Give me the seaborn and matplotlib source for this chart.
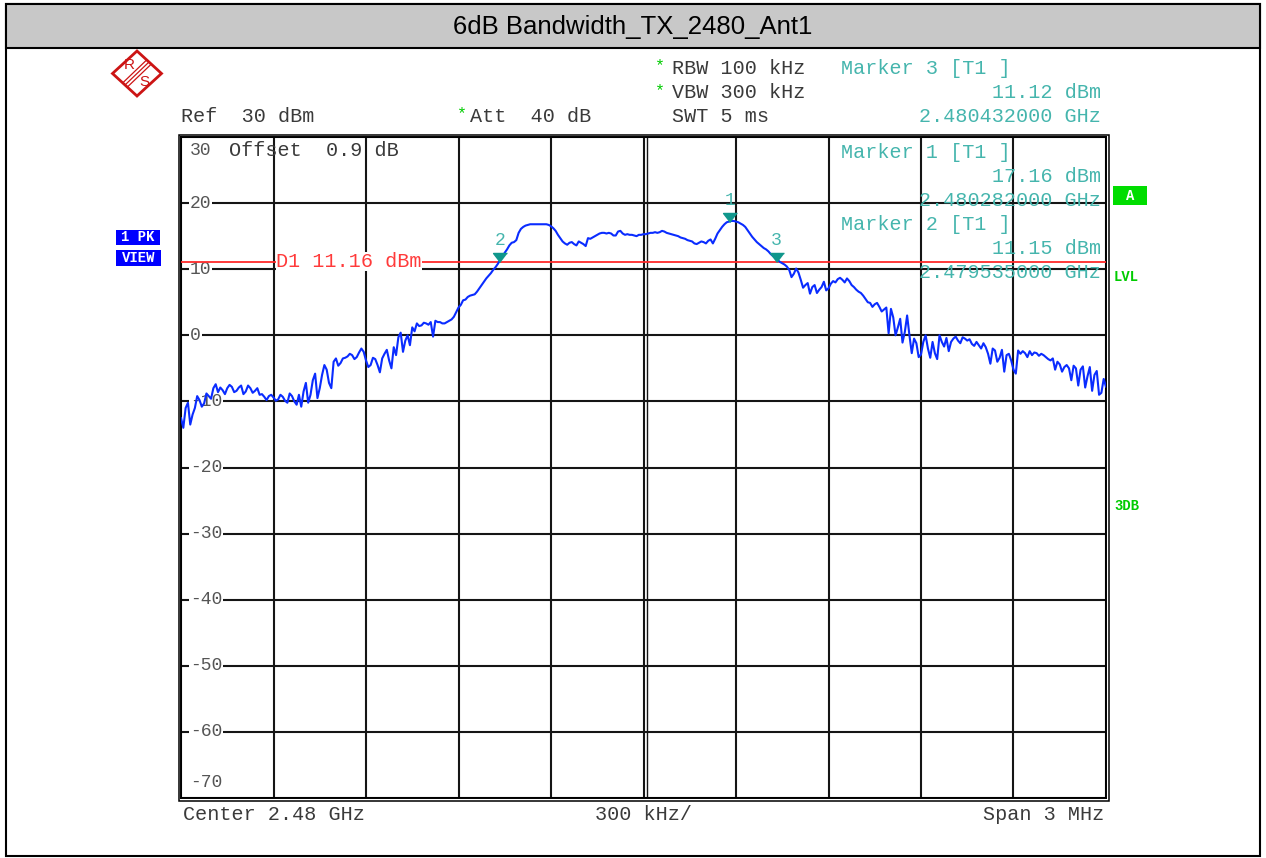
import numpy as np
import pandas as pd
import matplotlib
matplotlib.use("Agg")
import matplotlib.pyplot as plt
import seaborn as sns
from matplotlib.patches import Rectangle, Polygon
from matplotlib.lines import Line2D

# ---------------- data ----------------
title = "6dB Bandwidth_TX_2480_Ant1"
start_mhz, stop_mhz = 2478.5, 2481.5          # Center 2.48 GHz, Span 3 MHz
# trace levels (even sweep points)
levels_even = [
    -12.5, -11.0, -13.5, -11.0, -9.8, -10.3, -9.2, -8.0, -8.6, -8.3,
    -8.0, -7.8, -8.4, -7.6, -8.5, -8.0, -8.4, -9.0, -9.3, -9.2,
    -9.4, -9.7, -9.3, -10.2, -9.2, -10.5, -10.8, -7.2, -9.0, -5.8,
    -8.0, -4.5, -7.2, -4.0, -4.6, -3.5, -3.2, -3.0, -3.3, -2.0,
    -3.8, -4.5, -3.6, -5.6, -2.8, -3.8, -1.8, -0.3, -2.5, 0.0,
    1.2, 1.8, 1.5, 1.8, 2.0, 2.2, 2.0, 1.8, 2.2, 2.8,
    4.2, 5.3, 5.8, 6.1, 6.6, 7.6, 8.6, 9.4, 10.3, 11.4,
    12.5, 13.6, 14.1, 15.5, 16.4, 16.7, 16.8, 16.8, 16.8, 16.8,
    16.5, 15.8, 14.7, 13.9, 14.0, 13.8, 14.2, 13.8, 14.7, 14.8,
    15.2, 15.5, 15.4, 15.4, 15.1, 15.8, 15.2, 15.2, 15.1, 15.2,
    15.3, 15.4, 15.5, 15.5, 15.8, 15.5, 15.3, 15.1, 14.8, 14.6,
    14.3, 13.9, 14.0, 14.1, 14.3, 13.9, 15.4, 16.4, 17.1, 17.3,
    17.2, 16.9, 16.4, 15.4, 14.5, 13.8, 13.2, 12.7, 12.0, 11.4,
    10.9, 10.4, 8.8, 10.1, 8.4, 7.6, 6.3, 7.6, 6.9, 8.1,
    7.1, 8.2, 8.5, 8.4, 8.6, 7.6, 6.9, 6.4, 5.5, 4.9,
    4.7, 4.3, 3.9, 0.3, 2.7, 1.2, -1.1, 3.0, -2.7, -1.2,
    -2.9, 0.0, -3.4, -2.7, 0.0, -1.7, -2.4, -0.5, -0.8, -0.3,
    -0.8, -1.3, -1.0, -2.0, -1.8, -4.3, -2.3, -3.4, -5.5, -2.8,
    -5.2, -2.3, -2.4, -3.3, -3.0, -2.7, -2.8, -3.3, -3.8, -5.2,
    -4.4, -4.8, -5.0, -4.6, -7.6, -4.7, -6.2, -8.4, -5.4, -8.7,
    -7.8,
]
# trace levels (odd sweep points, between the even ones)
levels_odd = [
    -14.0, -10.2, -12.0, -9.2, -10.8, -8.8, -9.6, -7.4, -7.9, -8.9,
    -7.5, -8.6, -7.9, -8.9, -7.6, -8.7, -8.0, -8.9, -9.8, -9.0,
    -9.9, -9.0, -9.9, -8.8, -10.0, -9.0, -8.5, -10.2, -6.8, -9.5,
    -6.0, -5.2, -8.0, -3.5, -4.2, -3.4, -2.8, -3.6, -2.6, -2.5,
    -4.8, -3.4, -4.5, -3.5, -2.2, -5.0, -3.0, 0.4, -0.8, -1.5,
    0.6, 1.4, 1.9, 1.6, -0.2, 2.0, 1.8, 2.0, 2.4, 3.5,
    4.6, 5.4, 6.0, 6.2, 7.1, 8.1, 9.0, 9.9, 10.8, 11.9,
    13.0, 14.0, 14.4, 16.1, 16.6, 16.8, 16.8, 16.8, 16.8, 16.7,
    16.2, 15.2, 14.2, 13.7, 14.1, 13.6, 14.0, 13.5, 14.6, 15.0,
    15.4, 15.5, 15.5, 15.1, 15.7, 15.4, 15.3, 15.2, 15.0, 15.2,
    15.3, 15.5, 15.6, 15.6, 15.7, 15.4, 15.2, 15.0, 14.7, 14.4,
    14.2, 13.8, 14.2, 13.9, 14.5, 14.6, 15.9, 16.8, 17.2, 17.3,
    17.1, 16.7, 15.9, 14.9, 14.1, 13.5, 13.0, 12.3, 11.7, 11.1,
    10.7, 9.9, 9.3, 9.5, 7.2, 7.9, 7.3, 6.4, 7.3, 6.8,
    7.8, 8.0, 8.7, 8.0, 8.2, 7.3, 6.6, 6.0, 5.0, 4.3,
    4.9, 3.6, 4.2, 4.0, 0.0, 2.5, 0.5, 0.0, -0.5, -3.3,
    -1.0, -2.0, -1.0, -3.6, -1.0, -0.4, -1.0, -0.2, -1.2, -0.5,
    -0.6, -1.6, -1.5, -1.2, -2.8, -2.0, -4.0, -2.2, -3.0, -3.8,
    -5.8, -2.8, -2.7, -2.4, -2.6, -3.1, -3.0, -3.6, -3.5, -4.0,
    -5.5, -4.5, -6.8, -5.0, -5.2, -7.9, -4.8, -6.0, -9.0, -6.6,
]
y_ticks = [30, 20, 10, 0, -10, -20, -30, -40, -50, -60, -70]
display_line_dbm = 11.16
marker_ids = ["1", "2", "3"]
marker_freq_ghz = [2.480282, 2.479535, 2.480432]
marker_level_dbm = [17.16, 11.15, 11.12]

# ---------------- style ----------------
sns.set_theme(style="white")
plt.rcParams["font.family"] = ["Liberation Mono", "DejaVu Sans Mono"]

W, H = 1266, 858
fig = plt.figure(figsize=(W / 100, H / 100), dpi=100)
fig.patch.set_facecolor("white")


def fx(x):
    return x / W


def fy(y):
    return 1 - y / H


GRAY = "#3a3a3a"
TEAL = "#45b5ad"
MARK = "#10978c"
RED = "#ff2a2a"
BLUE = "#0a2cff"
GREEN = "#00cc00"
MONO = 14.5

# outer frame and title bar
fig.patches.append(Rectangle((fx(6), fy(856)), fx(1260) - fx(6), fy(4) - fy(856),
                             transform=fig.transFigure, fill=False, edgecolor="black", lw=1.5, zorder=0))
fig.patches.append(Rectangle((fx(6), fy(48)), fx(1260) - fx(6), fy(4) - fy(48),
                             transform=fig.transFigure, facecolor="#c8c8c8", edgecolor="black", lw=1.5, zorder=0))
fig.text(fx(633), fy(27), title, ha="center", va="center", fontsize=18.5,
         family="Liberation Sans", color="black")

# ---------------- axes ----------------
ax = fig.add_axes([fx(181), fy(798), fx(1106) - fx(181), fy(137) - fy(798)])
levels = np.empty(len(levels_even) + len(levels_odd))
levels[0::2] = levels_even
levels[1::2] = levels_odd
freqs = np.linspace(start_mhz, stop_mhz, len(levels))
df = pd.DataFrame({"freq": freqs, "level": levels})
sns.lineplot(data=df, x="freq", y="level", ax=ax, color=BLUE, linewidth=1.5, zorder=5)
ax.set_xlim(start_mhz, stop_mhz)
ax.set_ylim(y_ticks[-1], y_ticks[0])
ax.set_xticks(np.linspace(start_mhz, stop_mhz, 11))
ax.set_yticks(y_ticks)
ax.grid(True, color="#151515", lw=1.5)
ax.set_axisbelow(True)
ax.tick_params(length=0, labelleft=False, labelbottom=False)
ax.set_xlabel("")
ax.set_ylabel("")
for s in ax.spines.values():
    s.set_color("black")
    s.set_linewidth(1.4)
center_mhz = (start_mhz + stop_mhz) / 2
ax.axvline(center_mhz + 0.0105, color="#151515", lw=1.0, zorder=1)
# double outer frame of the graticule
fig.patches.append(Rectangle((fx(178.5), fy(800.5)), fx(1108.5) - fx(178.5), fy(134.5) - fy(800.5),
                             transform=fig.transFigure, fill=False, edgecolor="black", lw=1.1, zorder=0))

# y labels inside graticule
for v in y_ticks:
    dy = 0
    if v == y_ticks[0]:
        dy = -9.5
    elif v == y_ticks[-1]:
        dy = 11.5
    ax.annotate(f"{v}", xy=(0, v), xycoords=ax.get_yaxis_transform(), xytext=(6.5, dy),
                textcoords="offset points", ha="left", va="center", fontsize=13, color="#555555",
                bbox=dict(facecolor="white", edgecolor="none", pad=0.6), zorder=3)

# display line
ax.axhline(display_line_dbm, color=RED, lw=1.3, zorder=4)
ax.text((276 - 181) / 925, display_line_dbm, f"D1 {display_line_dbm:.2f} dBm",
        transform=ax.get_yaxis_transform(), ha="left", va="center", fontsize=MONO, color="#ff3a3a",
        bbox=dict(facecolor="white", edgecolor="none", pad=0.2), zorder=4.2)

# markers
m_f = np.array(marker_freq_ghz) * 1000
ax.plot(m_f, marker_level_dbm, linestyle="none", marker=[(0, 0), (-1, 1.3), (1, 1.3)],
        markersize=13, color=MARK, zorder=6)
for mid, f, lv in zip(marker_ids, m_f, marker_level_dbm):
    ax.annotate(mid, xy=(f, lv), xytext=(0, 15.5), textcoords="offset points", ha="center",
                va="center", fontsize=13, color=TEAL, zorder=6)

# ---------------- header / annotation texts ----------------
def t(x, y, s, color=GRAY, ha="left", size=MONO, **kw):
    fig.text(fx(x), fy(y), s, ha=ha, va="center", fontsize=size, color=color, **kw)


t(181, 117, "Ref  30 dBm")
t(470, 117, "Att  40 dB")
t(462, 114, "*", color=GREEN, ha="center", size=12)
t(660, 66, "*", color=GREEN, ha="center", size=12)
t(660, 91, "*", color=GREEN, ha="center", size=12)
t(672, 68, "RBW 100 kHz")
t(672, 93, "VBW 300 kHz")
t(672, 117, "SWT 5 ms")

order = [2, 0, 1]
rows = [(68, 93, 117), (152, 176, 200), (225, 249, 273)]
for k, (r1, r2, r3) in zip(order, rows):
    t(841, r1, f"Marker {marker_ids[k]} [T1 ]", color=TEAL)
    t(1101, r2, f"{marker_level_dbm[k]:.2f} dBm", color=TEAL, ha="right")
    t(1101, r3, f"{marker_freq_ghz[k]:.9f} GHz", color=TEAL, ha="right")

t(229, 150, "Offset  0.9 dB")
t(183, 815, "Center 2.48 GHz")
t(595, 815, "300 kHz/")
t(1104, 815, "Span 3 MHz", ha="right")

# side labels
fig.patches.append(Rectangle((fx(1113), fy(205)), fx(1147) - fx(1113), fy(186) - fy(205),
                             transform=fig.transFigure, facecolor="#00dd00", edgecolor="none"))
t(1130, 195.5, "A", color="white", ha="center", size=10, weight="bold")
t(1114, 277, "LVL", color=GREEN, size=10, weight="bold")
t(1114, 506, "3DB", color=GREEN, size=10, weight="bold")
fig.patches.append(Rectangle((fx(116), fy(245)), fx(160) - fx(116), fy(230) - fy(245),
                             transform=fig.transFigure, facecolor="#0000ff", edgecolor="none"))
fig.patches.append(Rectangle((fx(116), fy(266)), fx(161) - fx(116), fy(250) - fy(266),
                             transform=fig.transFigure, facecolor="#0000ff", edgecolor="none"))
t(138, 237.5, "1 PK", color="white", ha="center", size=10, weight="bold")
t(138.5, 258, "VIEW", color="white", ha="center", size=10, weight="bold")

# R&S logo
LOGO = "#cc1414"
cx, cy, hw, hh = 137, 73.5, 24.5, 22.5
fig.patches.append(Polygon([(fx(cx), fy(cy - hh)), (fx(cx + hw), fy(cy)), (fx(cx), fy(cy + hh)),
                            (fx(cx - hw), fy(cy))], closed=True, transform=fig.transFigure,
                           fill=False, edgecolor=LOGO, lw=2))
for off in (-2.2, 0, 2.2):
    fig.lines.append(Line2D([fx(149 + off), fx(125 + off)], [fy(62 + off), fy(85 + off)],
                            transform=fig.transFigure, color=LOGO, lw=0.9))
fig.text(fx(129), fy(65), "R", ha="center", va="center", fontsize=11, color=LOGO, family="Liberation Sans")
fig.text(fx(144), fy(82), "S", ha="center", va="center", fontsize=11, color=LOGO, family="Liberation Sans")

fig.savefig("out.png", dpi=100, facecolor="white")
